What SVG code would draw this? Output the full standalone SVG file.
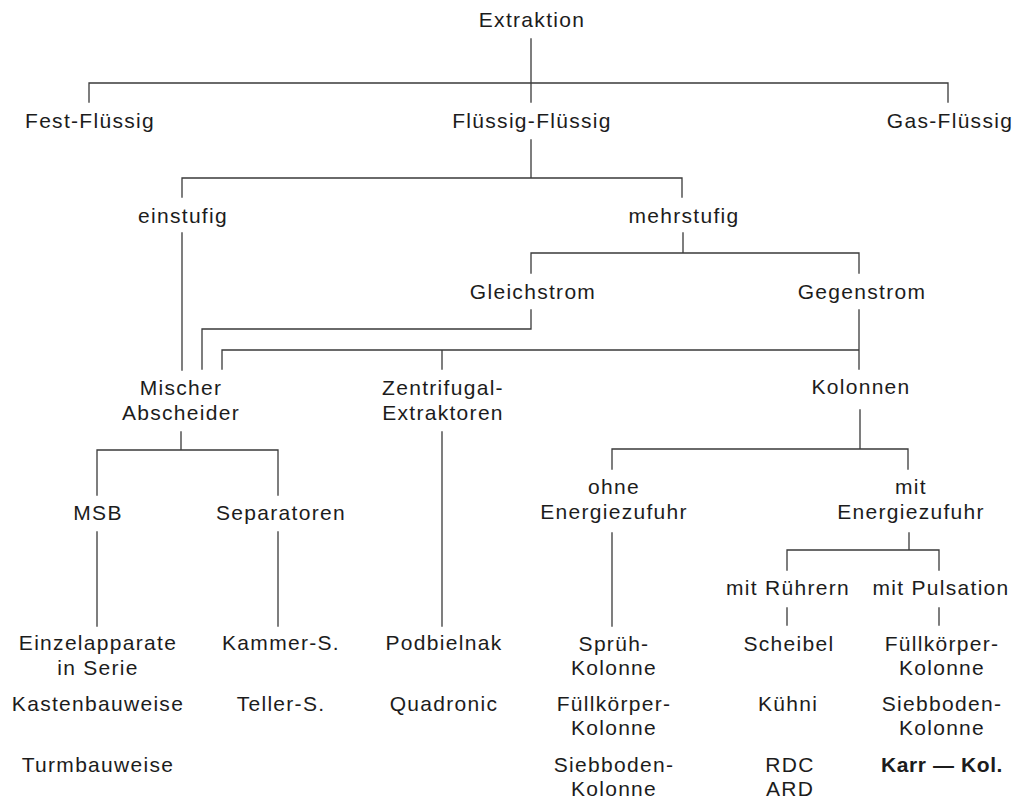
<svg xmlns="http://www.w3.org/2000/svg" width="1015" height="801" viewBox="0 0 1015 801">
  <style>
    .lbl { font-family: "Liberation Sans", Arial, Helvetica, sans-serif; font-size: 21px; letter-spacing: 1.3px; fill: #1c1c1c; text-anchor: middle; }
    .bold { font-weight: bold; letter-spacing: 0.6px; }
    .conn { fill: none; stroke: #3a3a3a; stroke-width: 1.3; stroke-linecap: square; }
  </style>
  <rect width="1015" height="801" fill="#ffffff"/>

  <!-- tree connectors -->
  <g id="connectors" class="conn">
    <path d="M531 39 V83 M89 102 V83 H948 V102 M531 83 V102"/>
    <path d="M531 140 V178 M182 197 V178 H682 V197"/>
    <path d="M182 233 V370"/>
    <path d="M683 233 V253 M531 273 V253 H859 V273"/>
    <path d="M531 310 V329 H202 V369"/>
    <path d="M859 310 V369 M222 369 V350 H859 M442 350 V369"/>
    <path d="M860 410 V449 M612 469 V449 H908 V469"/>
    <path d="M181 432 V450 M97 495 V450 H278 V495"/>
    <path d="M97 532 V626 M278 532 V626"/>
    <path d="M442 432 V626"/>
    <path d="M612 533 V626"/>
    <path d="M909 533 V550 M787 570 V550 H939 V570"/>
    <path d="M787 608 V625 M939 608 V625"/>
  </g>

  <g id="extraktion"><text class="lbl" x="532" y="27">Extraktion</text></g>
  <g id="fest-fluessig"><text class="lbl" x="90" y="128">Fest-Flüssig</text></g>
  <g id="fluessig-fluessig"><text class="lbl" x="532" y="128">Flüssig-Flüssig</text></g>
  <g id="gas-fluessig"><text class="lbl" x="950" y="128">Gas-Flüssig</text></g>

  <g id="einstufig"><text class="lbl" x="183" y="223">einstufig</text></g>
  <g id="mehrstufig"><text class="lbl" x="684" y="223">mehrstufig</text></g>
  <g id="gleichstrom"><text class="lbl" x="533" y="299">Gleichstrom</text></g>
  <g id="gegenstrom"><text class="lbl" x="862" y="299">Gegenstrom</text></g>

  <g id="mischer-abscheider"><text class="lbl" x="181" y="395"><tspan x="181">Mischer</tspan><tspan x="181" dy="25">Abscheider</tspan></text></g>
  <g id="zentrifugal"><text class="lbl" x="443" y="395"><tspan x="443">Zentrifugal-</tspan><tspan x="443" dy="25">Extraktoren</tspan></text></g>
  <g id="kolonnen"><text class="lbl" x="861" y="394">Kolonnen</text></g>

  <g id="msb"><text class="lbl" x="98" y="520">MSB</text></g>
  <g id="separatoren"><text class="lbl" x="281" y="520">Separatoren</text></g>
  <g id="ohne-energie"><text class="lbl" x="614" y="494"><tspan x="614">ohne</tspan><tspan x="614" dy="25">Energiezufuhr</tspan></text></g>
  <g id="mit-energie"><text class="lbl" x="911" y="494"><tspan x="911">mit</tspan><tspan x="911" dy="25">Energiezufuhr</tspan></text></g>
  <g id="mit-ruehrern"><text class="lbl" x="788" y="595">mit Rührern</text></g>
  <g id="mit-pulsation"><text class="lbl" x="941" y="595">mit Pulsation</text></g>

  <g id="msb-typen">
    <text class="lbl" x="98" y="650"><tspan x="98">Einzelapparate</tspan><tspan x="98" dy="25">in Serie</tspan></text>
    <text class="lbl" x="98" y="711">Kastenbauweise</text>
    <text class="lbl" x="98" y="772">Turmbauweise</text>
  </g>
  <g id="separator-typen">
    <text class="lbl" x="281" y="650">Kammer-S.</text>
    <text class="lbl" x="281" y="711">Teller-S.</text>
  </g>
  <g id="zentrifugal-typen">
    <text class="lbl" x="444" y="650">Podbielnak</text>
    <text class="lbl" x="444" y="711">Quadronic</text>
  </g>
  <g id="ohne-energie-typen">
    <text class="lbl" x="614" y="651"><tspan x="614">Sprüh-</tspan><tspan x="614" dy="24">Kolonne</tspan></text>
    <text class="lbl" x="614" y="711"><tspan x="614">Füllkörper-</tspan><tspan x="614" dy="24">Kolonne</tspan></text>
    <text class="lbl" x="614" y="772"><tspan x="614">Siebboden-</tspan><tspan x="614" dy="24">Kolonne</tspan></text>
  </g>
  <g id="ruehrer-typen">
    <text class="lbl" x="789" y="651">Scheibel</text>
    <text class="lbl" x="788" y="711">Kühni</text>
    <text class="lbl" x="790" y="772"><tspan x="790">RDC</tspan><tspan x="790" dy="24">ARD</tspan></text>
  </g>
  <g id="pulsation-typen">
    <text class="lbl" x="942" y="651"><tspan x="942">Füllkörper-</tspan><tspan x="942" dy="24">Kolonne</tspan></text>
    <text class="lbl" x="942" y="711"><tspan x="942">Siebboden-</tspan><tspan x="942" dy="24">Kolonne</tspan></text>
    <text class="lbl bold" x="942" y="772">Karr — Kol.</text>
  </g>
</svg>
